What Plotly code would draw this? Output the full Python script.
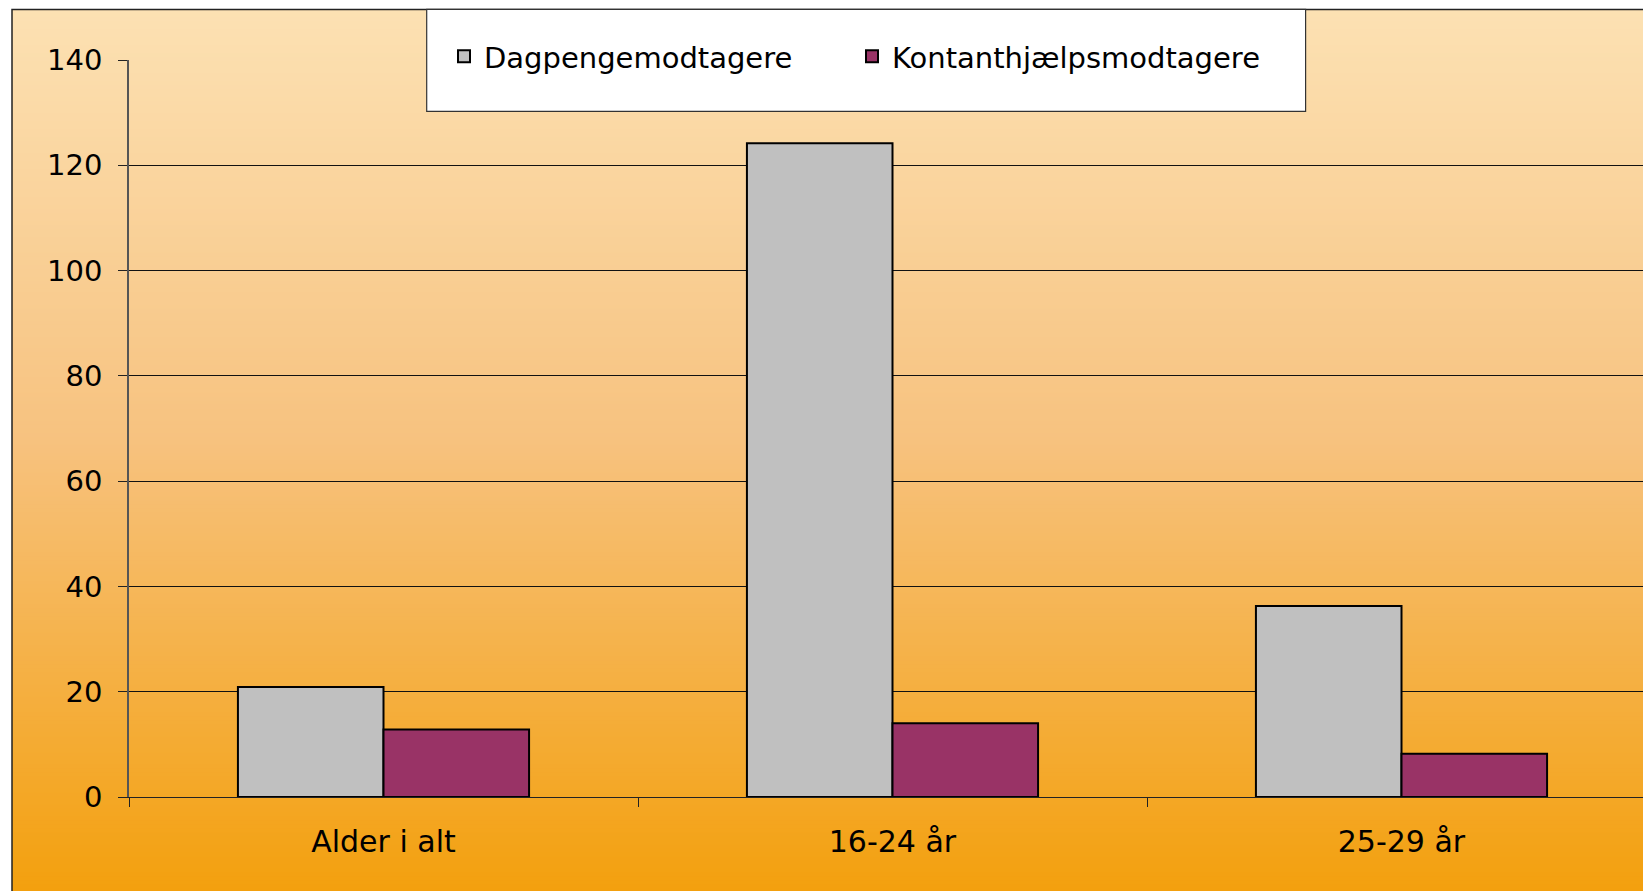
import plotly.graph_objects as go

categories = ["Alder i alt", "16-24 år", "25-29 år"]
dagpenge = [20.9, 124.2, 36.3]
kontant = [12.8, 14.0, 8.2]
y_ticks = [0, 20, 40, 60, 80, 100, 120, 140]

W, H = 1643, 891
# plot area edges in page pixel coordinates
L, T, B = 129, 59.6, 796.7
PW = W - L
PH = B - T

def px_x(p):  # page pixel -> paper x
    return (p - L) / PW

def px_y(p):  # page pixel -> paper y
    return (B - p) / PH

fig = go.Figure()
fig.add_trace(go.Bar(name="Dagpengemodtagere", x=categories, y=dagpenge,
                     marker=dict(color="#C0C0C0", line=dict(color="#000000", width=2))))
fig.add_trace(go.Bar(name="Kontanthjælpsmodtagere", x=categories, y=kontant,
                     marker=dict(color="#993366", line=dict(color="#000000", width=2))))

# gradient background (decorative)
stops = [(9, (252, 225, 179)), (440, (247, 194, 127)), (891, (243, 160, 14))]
def col_at(p):
    for (p0, c0), (p1, c1) in zip(stops[:-1], stops[1:]):
        if p <= p1:
            t = max(0.0, (p - p0) / (p1 - p0))
            return tuple(round(a + (b - a) * t) for a, b in zip(c0, c1))
    return stops[-1][1]

shapes = []
step = 4
y = 9
while y < H:
    c = col_at(y + step / 2)
    shapes.append(dict(type="rect", xref="paper", yref="paper", layer="below",
                       x0=px_x(12), x1=px_x(W + 5), y0=px_y(y - 0.5), y1=px_y(y + step + 0.5),
                       line=dict(width=0), fillcolor="rgb(%d,%d,%d)" % c))
    y += step
# chart border
shapes.append(dict(type="rect", xref="paper", yref="paper", layer="below",
                   x0=px_x(12), x1=px_x(W + 20), y0=px_y(9), y1=px_y(H + 20),
                   line=dict(color="#222222", width=1.5), fillcolor="rgba(0,0,0,0)"))
# legend box
shapes.append(dict(type="rect", xref="paper", yref="paper", layer="above",
                   x0=px_x(426.7), x1=px_x(1305.6), y0=px_y(9), y1=px_y(111),
                   line=dict(color="#333333", width=1.2), fillcolor="#FFFFFF"))

fig.update_layout(
    width=W, height=H,
    margin=dict(l=L, r=0, t=T, b=H - B, pad=0),
    paper_bgcolor="#FFFFFF",
    plot_bgcolor="rgba(0,0,0,0)",
    barmode="group", bargap=0.428, bargroupgap=0,
    font=dict(family="DejaVu Sans", size=30, color="#000000"),
    shapes=shapes,
    showlegend=True,
    legend=dict(orientation="h", x=px_x(444), xanchor="left",
                y=px_y(56), yanchor="middle",
                bgcolor="rgba(0,0,0,0)", borderwidth=0,
                font=dict(family="DejaVu Sans", size=29, color="#000000"),
                entrywidth=363, entrywidthmode="pixels", traceorder="normal"),
    xaxis=dict(range=[-0.5, -0.5 + PW / 509.0], showgrid=False,
               showline=True, linecolor="#222222", linewidth=1.2,
               ticks="outside", ticklen=9, tickcolor="#222222", tickwidth=1,
               tickson="boundaries", ticklabelstandoff=18,
               tickfont=dict(family="DejaVu Sans", size=30)),
    yaxis=dict(range=[0, 140], tickvals=y_ticks, showgrid=True,
               gridcolor="#111111", gridwidth=1, zeroline=False,
               showline=True, linecolor="#555555", linewidth=1.5,
               ticks="outside", ticklen=9, tickcolor="#222222", tickwidth=1,
               ticklabelstandoff=10,
               tickfont=dict(family="DejaVu Sans", size=29)),
)

fig.write_html(
    "out.html",
    config={"displayModeBar": False},
    post_script="document.body.style.margin='0';document.body.style.overflow='hidden';",
)
